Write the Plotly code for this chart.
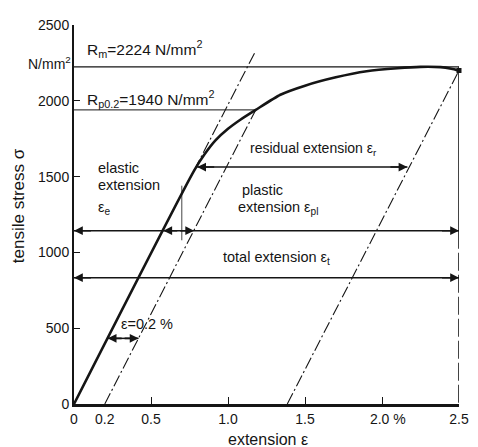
import plotly.graph_objects as go

# ---- data ----
curve_strain = [0, 0.78, 0.85, 0.92, 1.0, 1.08, 1.18, 1.34, 1.5, 1.7, 1.9, 2.1, 2.25, 2.38, 2.45, 2.5]
curve_stress = [0, 1540, 1650, 1740, 1815, 1875, 1940, 2040, 2100, 2155, 2195, 2215, 2224, 2222, 2212, 2200]

Rm = 2224
Rp02 = 1940
Rp02_strain = 1.18
end_strain = 2.5
end_stress = 2200
offset_start = 0.2
unload_start = 1.385
elastic_ext_strain = [0.78, 1.175]
elastic_ext_stress = [1540, 2320]
marker_strain = [0.70, 0.70]
marker_stress = [1440, 1080]

residual_level = 1563
residual_left = 0.80
residual_right = 2.165
plastic_level = 1143
plastic_elastic_x = 0.58
plastic_offset_x = 0.78
total_level = 833
eps02_level = 433
eps02_left = 0.219
eps02_right = 0.419

x_tickvals = [0, 0.2, 0.5, 1.0, 1.5, 2.0, 2.5]
x_ticktext = ["0", "0.2", "0.5", "1.0", "1.5", "&nbsp;&nbsp;&nbsp;2.0 %", "2.5"]
x_minor_ticks = [0.5, 1.0, 1.5, 2.0]
y_tickvals = [0, 500, 1000, 1500, 2000, 2500]
y_ticktext = ["0", "500", "1000", "1500", "2000", "2500"]

INK = "#151515"
FONT = "Liberation Sans, Arial, sans-serif"

fig = go.Figure()

def line(xs, ys, width=1.2, dash="solid"):
    fig.add_trace(go.Scatter(x=xs, y=ys, mode="lines", cliponaxis=False,
                             line=dict(color=INK, width=width, dash=dash),
                             hoverinfo="skip", showlegend=False))

# stress-strain curve
fig.add_trace(go.Scatter(x=curve_strain, y=curve_stress, mode="lines", cliponaxis=False,
                         line=dict(color=INK, width=2.6, shape="spline", smoothing=0.6),
                         hoverinfo="skip", showlegend=False))
# end point blob
fig.add_trace(go.Scatter(x=[end_strain], y=[end_stress], mode="markers", cliponaxis=False,
                         marker=dict(color=INK, size=5, symbol="square"),
                         hoverinfo="skip", showlegend=False))

# Rm and Rp0.2 lines
line([0, end_strain], [Rm, Rm], 1.2)
line([0, Rp02_strain], [Rp02, Rp02], 1.0)

# right vertical
line([end_strain, end_strain], [Rm, plastic_level], 1.6)
line([end_strain, end_strain], [plastic_level, 0], 1.6, "18px,4px")

# dash-dot lines
DD = "12px,3px,2px,3px"
line(elastic_ext_strain, elastic_ext_stress, 1.1, DD)
line([offset_start, Rp02_strain], [0, Rp02], 1.1, DD)
line([unload_start, end_strain], [0, end_stress], 1.1, DD)

# thin vertical marker
line(marker_strain, marker_stress, 0.8)

# horizontal arrow lines
line([residual_left, residual_right], [residual_level] * 2, 1.5)
line([0, end_strain], [plastic_level] * 2, 1.5)
line([0, end_strain], [total_level] * 2, 1.5)
line([eps02_left, eps02_right], [eps02_level] * 2, 1.5)

annotations = []

def head(tip_x, from_x, y):
    annotations.append(dict(x=tip_x, y=y, ax=from_x, ay=y, xref="x", yref="y",
                            axref="x", ayref="y", showarrow=True, arrowhead=2,
                            arrowsize=1.1, arrowwidth=1.6, arrowcolor=INK, text=""))

head(residual_left, residual_left + 0.12, residual_level)
head(residual_right, residual_right - 0.12, residual_level)
head(0, 0.12, plastic_level)
head(plastic_elastic_x, plastic_elastic_x + 0.1, plastic_level)
head(plastic_offset_x, plastic_offset_x - 0.1, plastic_level)
head(end_strain, end_strain - 0.12, plastic_level)
head(0, 0.12, total_level)
head(end_strain, end_strain - 0.12, total_level)
head(eps02_left, eps02_left + 0.1, eps02_level)
head(eps02_right, eps02_right - 0.1, eps02_level)

def text(t, x, y, size=14.5):
    annotations.append(dict(x=x, y=y, xref="x", yref="y", text=t, showarrow=False,
                            xanchor="left", yanchor="middle", align="left",
                            font=dict(family=FONT, size=size, color=INK)))

text("R<sub>m</sub>=2224 N/mm<sup>2</sup>", 0.07, 2345, 15.5)
text("R<sub>p0.2</sub>=1940 N/mm<sup>2</sup>", 0.07, 2015, 15.5)
text("residual extension ε<sub>r</sub>", 1.13, 1680, 14)
text("elastic", 0.145, 1560)
text("extension", 0.145, 1445)
text("ε<sub>e</sub>", 0.145, 1295)
text("plastic", 1.08, 1410)
text("extension ε<sub>pl</sub>", 1.05, 1290)
text("total extension ε<sub>t</sub>", 0.955, 965)
text("ε=0.2 %", 0.29, 525)

# unit label left of axis
annotations.append(dict(x=0, y=Rm, xref="paper", yref="y", text="N/mm<sup>2</sup>",
                        showarrow=False, xanchor="right", yanchor="middle", xshift=-1, yshift=4,
                        font=dict(family=FONT, size=14, color=INK)))
# axis titles
annotations.append(dict(x=0.503, y=0, xref="paper", yref="paper", text="extension ε",
                        showarrow=False, xanchor="center", yanchor="middle", yshift=-35,
                        font=dict(family=FONT, size=16, color=INK)))
annotations.append(dict(x=0, y=0.522, xref="paper", yref="paper", text="tensile stress σ",
                        showarrow=False, xanchor="center", yanchor="middle", xshift=-56,
                        textangle=-90, font=dict(family=FONT, size=17, color=INK)))

# page body adds an 8px offset; figure shrunk so the plot lands where the reference has it
fig.update_layout(
    width=470, height=439,
    margin=dict(l=66, r=14, t=9, b=43),
    paper_bgcolor="white", plot_bgcolor="white",
    font=dict(family=FONT, size=14, color=INK),
    annotations=annotations,
    xaxis=dict(range=[0, 2.5], tickmode="array", tickvals=x_tickvals, ticktext=x_ticktext,
               ticks="", showgrid=False, zeroline=False, showline=True, linecolor=INK,
               linewidth=2.5, tickfont=dict(size=14),
               minor=dict(tickmode="array", tickvals=x_minor_ticks, ticks="inside",
                          ticklen=7, tickwidth=1.2, tickcolor=INK, showgrid=False)),
    yaxis=dict(range=[0, 2500], tickmode="array", tickvals=y_tickvals, ticktext=y_ticktext,
               ticks="inside", ticklen=6, tickwidth=1.2, tickcolor=INK,
               showgrid=False, zeroline=False, showline=True, linecolor=INK, linewidth=2,
               tickfont=dict(size=14)),
)

fig.write_html("out.html")
